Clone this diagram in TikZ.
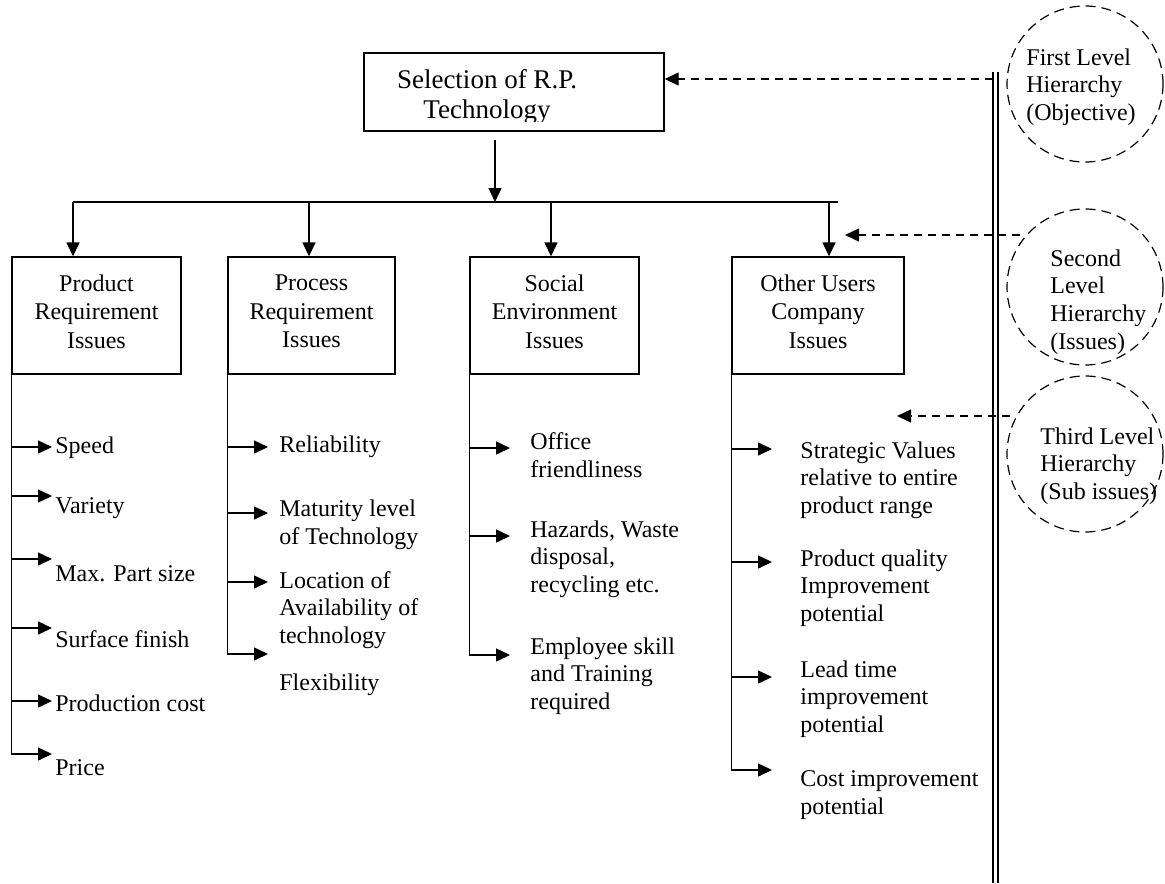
\documentclass[tikz,border=0pt]{standalone}
\usepackage{fontspec}
\setmainfont{Liberation Serif}
\usetikzlibrary{positioning, arrows.meta}
\newcommand{\boxlift}{\rule[-4pt]{0pt}{4pt}}

\begin{document}
\begin{tikzpicture}[
    x=0.5pt, y=-0.5pt,
    every node/.style={font=\fontsize{12}{13.8}\selectfont},
    topbox/.style={draw, line width=0.7pt, minimum width=150pt, minimum height=39pt, inner sep=0pt},
    issue/.style={draw, line width=0.7pt, minimum height=58.5pt, inner sep=0pt, align=center, font=\fontsize{12}{14.2}\selectfont},
    subitem/.style={anchor=west, align=left, inner sep=0pt},
    link/.style={line width=0.75pt, -{Triangle[length=7pt, width=6.5pt]}},
    trunk/.style={line width=0.75pt},
    lvl/.style={draw, circle, line width=0.6pt, dash pattern=on 5pt off 3pt, minimum size=78pt, inner sep=0pt},
    lvltext/.style={anchor=west, align=left, inner sep=0pt},
    hint/.style={line width=0.7pt, dash pattern=on 4pt off 3pt, -{Triangle[length=7pt, width=6.5pt]}},
]
\useasboundingbox (0,0) rectangle (1165,883);

% Objective
\node[topbox] (sel) at (514,92) {};
\coordinate (selclip) at (664,121.5);
\begin{scope}
\clip (sel.north west) rectangle (selclip);
\node[font=\fontsize{13.5}{15}\selectfont, align=center, inner sep=0pt] (seltext) at (487,97) {Selection of R.P.\\Technology};
\end{scope}

% Issues
\node[issue, minimum width=84.5pt] (prod) at (96.5,315.5) {Product\\Requirement\\Issues\boxlift};
\node[issue, minimum width=83.5pt] (proc) at (311.5,315.5) {Process\\Requirement\\Issues\boxlift};
\node[issue, minimum width=84.5pt] (soc) at (554.5,315.5) {Social\\Environment\\Issues\boxlift};
\node[issue, minimum width=86pt] (oth) at (818,315.5) {Other Users\\Company\\Issues\boxlift};

% Objective-to-issue links
\coordinate (selout) at (495,140);
\coordinate (bustop) at (495,202);
\coordinate (busL) at (73,202);
\coordinate (busR) at (838,202);
\coordinate (b2) at (309,202);
\coordinate (b3) at (551,202);
\coordinate (b4) at (829,202);
\draw[link] (selout) -- (bustop);
\draw[trunk] (busL) -- (busR);
\draw[link] (busL) -- (busL |- prod.north);
\draw[link] (b2) -- (b2 |- proc.north);
\draw[link] (b3) -- (b3 |- soc.north);
\draw[link] (b4) -- (b4 |- oth.north);

% Product sub issues
\node[subitem] (speed) at (55,448) {Speed};
\node[subitem] (variety) at (55,508) {Variety};
\node[subitem] (maxsize) at (55,574) {Max. Part size};
\node[subitem] (surface) at (55,639) {Surface finish};
\node[subitem] (prodcost) at (55,703) {Production cost};
\node[subitem] (price) at (55,768) {Price};
\coordinate (pa1) at (52,447);
\coordinate (pa2) at (52,496);
\coordinate (pa3) at (52,559);
\coordinate (pa4) at (52,628);
\coordinate (pa5) at (52,701);
\coordinate (pa6) at (52,754);
\draw[link] (prod.south west) |- (pa6);
\draw[link] (prod.west |- pa1) -- (pa1);
\draw[link] (prod.west |- pa2) -- (pa2);
\draw[link] (prod.west |- pa3) -- (pa3);
\draw[link] (prod.west |- pa4) -- (pa4);
\draw[link] (prod.west |- pa5) -- (pa5);

% Process sub issues
\node[subitem] (reliab) at (279,447) {Reliability};
\node[subitem] (maturity) at (279,525) {Maturity level\\of Technology};
\node[subitem] (location) at (279,610) {Location of\\Availability of\\technology};
\node[subitem] (flex) at (279,685) {Flexibility};
\coordinate (qa1) at (268,447);
\coordinate (qa2) at (268,513);
\coordinate (qa3) at (268,582);
\coordinate (qa4) at (268,654);
\draw[link] (proc.south west) |- (qa4);
\draw[link] (proc.west |- qa1) -- (qa1);
\draw[link] (proc.west |- qa2) -- (qa2);
\draw[link] (proc.west |- qa3) -- (qa3);

% Social sub issues
\node[subitem] (office) at (530,455) {Office\\friendliness};
\node[subitem] (hazards) at (530,559) {Hazards, Waste\\disposal,\\recycling etc.};
\node[subitem] (skill) at (530,676) {Employee skill\\and Training\\required};
\coordinate (sa1) at (510,448);
\coordinate (sa2) at (510,536);
\coordinate (sa3) at (510,655);
\draw[link] (soc.south west) |- (sa3);
\draw[link] (soc.west |- sa1) -- (sa1);
\draw[link] (soc.west |- sa2) -- (sa2);

% Other users sub issues
\node[subitem] (strategic) at (800,480) {Strategic Values\\relative to entire\\product range};
\node[subitem] (quality) at (800,588) {Product quality\\Improvement\\potential};
\node[subitem] (leadtime) at (800,699) {Lead time\\improvement\\potential};
\node[subitem] (costimp) at (800,795) {Cost improvement\\potential};
\coordinate (oa1) at (772,449);
\coordinate (oa2) at (772,562);
\coordinate (oa3) at (772,677);
\coordinate (oa4) at (772,770);
\draw[link] (oth.south west) |- (oa4);
\draw[link] (oth.west |- oa1) -- (oa1);
\draw[link] (oth.west |- oa2) -- (oa2);
\draw[link] (oth.west |- oa3) -- (oa3);

% Hierarchy levels
\coordinate (railtop) at (995.5,72);
\coordinate (railbot) at (995.5,883);
\draw[double, double distance=1.5pt, line width=0.9pt] (railtop) -- (railbot);

\node[lvl] (lvl1) at (1085,84) {};
\node[lvl] (lvl2) at (1085,287) {};
\node[lvl] (lvl3) at (1085,454) {};
\node[lvltext] (lvl1txt) at (1026,87) {First Level\\Hierarchy\\(Objective)};
\node[lvltext] (lvl2txt) at (1050,302) {Second\\Level\\Hierarchy\\(Issues)};
\node[lvltext] (lvl3txt) at (1040,466) {Third Level\\Hierarchy\\(Sub issues)};

\coordinate (h1) at (993,79);
\coordinate (h2s) at (1020,235);
\coordinate (h2e) at (845,235);
\coordinate (h3s) at (1010,416);
\coordinate (h3e) at (897,416);
\draw[hint] (h1) -- (sel.east |- h1);
\draw[hint] (h2s) -- (h2e);
\draw[hint] (h3s) -- (h3e);
\end{tikzpicture}
\end{document}
